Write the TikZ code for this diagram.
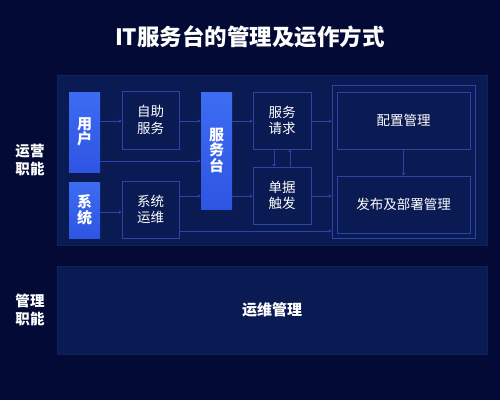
\documentclass[tikz,border=0pt]{standalone}
\usepackage{fontspec}
\setmainfont{Noto Sans CJK SC}
\usetikzlibrary{arrows.meta}
\definecolor{bg}{HTML}{030A35}
\definecolor{panel}{HTML}{0A1A52}
\definecolor{panelb}{HTML}{0E2160}
\definecolor{ln}{HTML}{2A44A8}
\definecolor{bluetop}{HTML}{3D6CF2}
\definecolor{bluebot}{HTML}{2E55E2}
\tikzset{
  x=1pt,y=-1pt,
  panelbox/.style={fill=panel,draw=panelb,line width=1pt},
  obox/.style={draw=ln,line width=0.8pt,fill=panel,text=white,font=\fontsize{13.5}{16.5}\selectfont,align=center,inner sep=0pt},
  bbox/.style={top color=bluetop,bottom color=bluebot,draw=none,text=white,font=\bfseries\fontsize{15}{15.5}\selectfont,align=center,inner sep=0pt},
  conn/.style={draw=ln,line width=0.7pt,-{Triangle[length=2.5pt,width=3pt]}},
  side/.style={text=white,font=\bfseries\fontsize{14.5}{18}\selectfont,align=center},
}
\begin{document}
\begin{tikzpicture}
\useasboundingbox (0,0) rectangle (500,400);
\fill[bg] (0,0) rectangle (500,400);
\node[text=white,font=\bfseries\fontsize{22.5}{26}\selectfont] (title) at (250,37) {IT服务台的管理及运作方式};
% panels
\draw[panelbox] (57,75) rectangle (487,245);
\draw[panelbox] (57,266) rectangle (487,354);
\node[text=white,font=\bfseries\fontsize{15}{18}\selectfont] (yw) at (272,310) {运维管理};
\node[side] (yy) at (30,160) {运营\\职能};
\node[side] (gl) at (30,310) {管理\\职能};
% blue nodes
\node[bbox,minimum width=31pt,minimum height=80pt] (user) at (84.5,132) {用\\户};
\node[bbox,minimum width=31pt,minimum height=56pt] (sys) at (84.5,210) {系\\统};
\node[bbox,minimum width=31pt,minimum height=117pt] (desk) at (216.5,150.5) {服\\务\\台};
% outline nodes
\node[obox,minimum width=57pt,minimum height=58pt] (self) at (150.5,120) {自助\\服务};
\node[obox,minimum width=57pt,minimum height=57pt] (ops) at (150.5,209.5) {系统\\运维};
\node[obox,minimum width=58pt,minimum height=57pt] (req) at (282,120.5) {服务\\请求};
\node[obox,minimum width=58pt,minimum height=57pt] (tkt) at (282,195.5) {单据\\触发};
\node[draw=ln,line width=0.8pt,minimum width=143pt,minimum height=153pt,inner sep=0pt] (grp) at (403.5,161.5) {};
\node[obox,minimum width=133pt,minimum height=57pt] (cfg) at (403.5,120.5) {配置管理};
\node[obox,minimum width=133pt,minimum height=57pt] (rel) at (403.5,204.5) {发布及部署管理};
% connectors
\draw[conn] (user.east |- 0,121) -- (self.west |- 0,121);
\draw[conn] (self.east |- 0,121) -- (desk.west |- 0,121);
\draw[conn] (user.east |- 0,161) -- (desk.west |- 0,161);
\draw[conn] (sys.east |- 0,212) -- (ops.west |- 0,212);
\draw[conn] (ops.east |- 0,196) -- (desk.west |- 0,196);
\draw[conn] (ops.east |- 0,231) -- (grp.west |- 0,231);
\draw[conn] (desk.east |- 0,121) -- (req.west |- 0,121);
\draw[conn] (desk.east |- 0,196) -- (tkt.west |- 0,196);
\draw[conn] (req.east |- 0,121) -- (grp.west |- 0,121);
\draw[conn] (tkt.east |- 0,196) -- (grp.west |- 0,196);
\draw[conn] (req.south -| 274,0) -- (tkt.north -| 274,0);
\draw[conn] (tkt.north -| 290,0) -- (req.south -| 290,0);
\draw[conn] (cfg.south) -- (rel.north);
\end{tikzpicture}
\end{document}
